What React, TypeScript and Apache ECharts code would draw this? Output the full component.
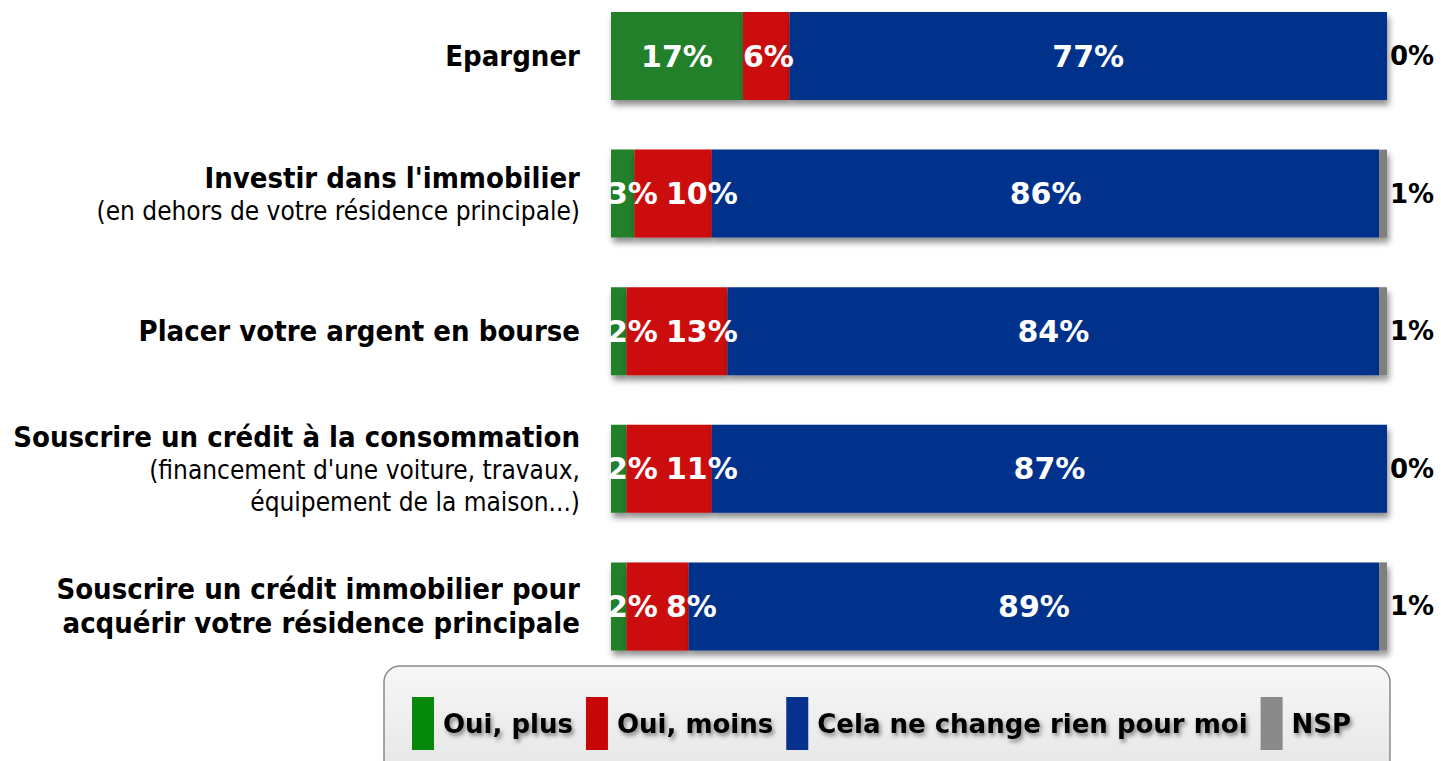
import React, { useEffect, useRef } from "react";
import * as echarts from "echarts";

const categories = [
  "Epargner",
  "Investir dans l'immobilier",
  "Placer votre argent en bourse",
  "Souscrire un crédit à la consommation",
  "Souscrire un crédit immobilier pour\nacquérir votre résidence principale",
];
const subtitles = [
  "",
  "(en dehors de votre résidence principale)",
  "",
  "(financement d'une voiture, travaux,\néquipement de la maison...)",
  "",
];
const seriesNames = ["Oui, plus", "Oui, moins", "Cela ne change rien pour moi", "NSP"];
const ouiPlus = [17, 3, 2, 2, 2];
const ouiMoins = [6, 10, 13, 11, 8];
const rien = [77, 86, 84, 87, 89];
const nsp = [0, 1, 1, 0, 1];

const barColors = ["#24802a", "#cc0a0a", "#06308b", "#7f7f7f"];
const legendColors = ["#06880a", "#c80606", "#06318c", "#8a8a8a"];

const GRID_LEFT = 611;
const GRID_WIDTH = 776;
const BAND = 137.6;

export default function App() {
  const ref = useRef<HTMLDivElement>(null);
  useEffect(() => {
    document.body.style.margin = "0";
    const chart = echarts.init(ref.current!, null, { renderer: "svg" });
    const labelFont = {
      fontFamily: "'DejaVu Sans', Verdana, sans-serif",
      fontWeight: "bold" as const,
      fontSize: 30,
    };
    const shadow = {
      shadowColor: "rgba(0,0,0,0.45)",
      shadowBlur: 6,
      shadowOffsetX: 2,
      shadowOffsetY: 5,
    };
    const pct = (p: any) => p.value + "%";

    const greenData = ouiPlus.map((v) => ({
      value: v,
      label:
        v >= 10
          ? { position: "inside" }
          : { position: "insideLeft", distance: 0, offset: [-4, 0] },
    }));
    const redData = ouiMoins.map((v, i) => {
      const greenPx = (ouiPlus[i] / 100) * GRID_WIDTH;
      return {
        value: v,
        label: {
          position: "insideLeft",
          distance: 0,
          offset: [Math.max(0, 55 - greenPx), 0],
        },
      };
    });

    const option: any = {
      animation: false,
      backgroundColor: "#ffffff",
      graphic: [
        {
          type: "rect",
          z: -1,
          silent: true,
          shape: { x: 384, y: 666, width: 1006, height: 120, r: 16 },
          style: {
            fill: {
              type: "linear",
              x: 0,
              y: 0,
              x2: 0,
              y2: 1,
              colorStops: [
                { offset: 0, color: "#f7f7f7" },
                { offset: 1, color: "#e4e4e4" },
              ],
            },
            stroke: "#8a8a8a",
            lineWidth: 1.5,
          },
        },
      ],
      legend: {
        left: 412,
        top: 697,
        padding: 0,
        itemWidth: 22,
        itemHeight: 53,
        itemGap: 13,
        icon: "rect",
        selectedMode: false,
        data: seriesNames.map((n, i) => ({
          name: n,
          itemStyle: { color: legendColors[i], shadowBlur: 0 },
        })),
        textStyle: {
          fontFamily: "'DejaVu Sans', Verdana, sans-serif",
          fontWeight: "bold",
          fontSize: 26,
          color: "#000",
          padding: [0, 0, 0, 4],
          textShadowColor: "rgba(0,0,0,0.45)",
          textShadowBlur: 4,
          textShadowOffsetX: 2,
          textShadowOffsetY: 3,
        },
      },
      grid: {
        left: GRID_LEFT,
        width: GRID_WIDTH,
        top: 56 - BAND / 2,
        height: BAND * 5,
        outerBoundsMode: "none",
        containLabel: false,
      },
      xAxis: {
        type: "value",
        min: 0,
        max: 100,
        show: false,
      },
      yAxis: {
        type: "category",
        inverse: true,
        data: categories,
        axisLine: { show: false },
        axisTick: { show: false },
        splitLine: { show: false },
        axisLabel: {
          margin: 31,
          align: "right",
          formatter: (value: string, index: number) => {
            const b = value.split("\n").map((l) => "{b|" + l + "}");
            const s = subtitles[index]
              ? subtitles[index].split("\n").map((l) => "{s|" + l + "}")
              : [];
            return b.concat(s).join("\n");
          },
          rich: {
            b: {
              fontFamily: "'DejaVu Sans Condensed', 'Liberation Sans Narrow', sans-serif",
              fontWeight: "bold",
              fontSize: 29,
              lineHeight: 34,
              color: "#000",
              align: "right",
            },
            s: {
              fontFamily: "'DejaVu Sans Condensed', 'Liberation Sans Narrow', sans-serif",
              fontWeight: "normal",
              fontSize: 26,
              lineHeight: 32,
              color: "#000",
              align: "right",
            },
          },
        },
      },
      series: [
        {
          name: seriesNames[0],
          type: "bar",
          stack: "total",
          barWidth: 88,
          data: greenData,
          itemStyle: { color: barColors[0], ...shadow },
          label: { show: true, color: "#fff", formatter: pct, ...labelFont },
        },
        {
          name: seriesNames[1],
          type: "bar",
          stack: "total",
          barWidth: 88,
          data: redData,
          itemStyle: { color: barColors[1], ...shadow },
          label: { show: true, color: "#fff", formatter: pct, ...labelFont },
        },
        {
          name: seriesNames[2],
          type: "bar",
          stack: "total",
          barWidth: 88,
          data: rien,
          itemStyle: { color: barColors[2], ...shadow },
          label: { show: true, position: "inside", color: "#fff", formatter: pct, ...labelFont },
        },
        {
          name: seriesNames[3],
          type: "bar",
          stack: "total",
          barWidth: 88,
          data: nsp,
          itemStyle: { color: barColors[3], ...shadow },
          label: {
            show: true,
            position: "right",
            distance: 3,
            color: "#000",
            formatter: pct,
            ...labelFont,
            fontSize: 26,
          },
        },
      ],
    };
    chart.setOption(option);
    return () => chart.dispose();
  }, []);
  return <div ref={ref} style={{ width: 1441, height: 761 }} />;
}
